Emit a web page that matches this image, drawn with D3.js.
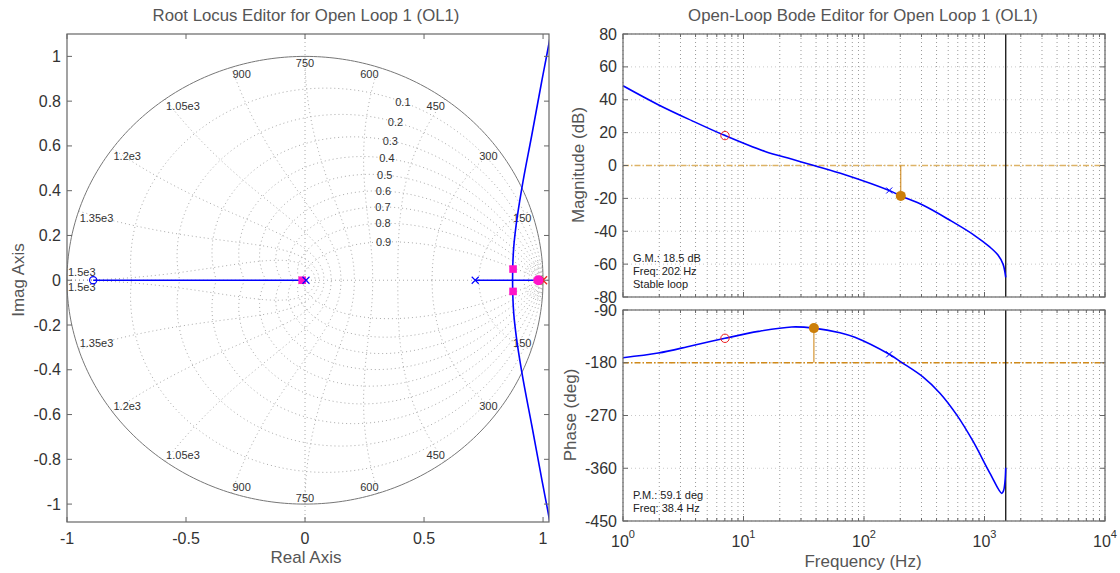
<!DOCTYPE html>
<html>
<head>
<meta charset="utf-8">
<script src="https://cdn.jsdelivr.net/npm/d3@7"></script>
<style>
  html, body { margin: 0; padding: 0; background: #fff; }
  svg { display: block; font-family: "Liberation Sans", Arial, sans-serif; }
</style>
</head>
<body>
<svg id="chart" width="1120" height="573"></svg>
<script>
// ---------- Root locus data ----------
const rlXTicks = [-1, -0.5, 0, 0.5, 1];
const rlXTickLabels = ["-1", "-0.5", "0", "0.5", "1"];
const rlYTicks = [-1, -0.8, -0.6, -0.4, -0.2, 0, 0.2, 0.4, 0.6, 0.8, 1];
const rlYTickLabels = ["-1", "-0.8", "-0.6", "-0.4", "-0.2", "0", "0.2", "0.4", "0.6", "0.8", "1"];

// damping ratios and natural frequencies of the z-plane grid
const zetaValues = [0.1, 0.2, 0.3, 0.4, 0.5, 0.6, 0.7, 0.8, 0.9];
const wnValues = [150, 300, 450, 600, 750, 900, 1050, 1200, 1350, 1500];
const wnLabels = ["150", "300", "450", "600", "750", "900", "1.05e3", "1.2e3", "1.35e3", "1.5e3"];
const wnSmall = [10, 20, 30, 40];
const nyquist = 1500;

// locus branches (real, imag)
const branchReal1 = [[-0.89, 0], [0.004, 0]];
const branchReal2 = [[0.715, 0], [1.0, 0]];
const branchUpper = [[0.872, 0], [0.873, 0.07], [0.877, 0.15], [0.887, 0.247], [0.911, 0.412], [0.953, 0.65], [0.993, 0.88], [1.032, 1.1], [1.04, 1.15]];
const branchLower = branchUpper.map(p => [p[0], -p[1]]);

// open-loop poles / zeros and closed-loop poles
const plantPoles = [[0.004, 0], [0.715, 0]];
const plantZeros = [[-0.89, 0]];
const compPoles = [[1.0, 0]];
const compZeros = [[0.985, 0]];
const clPolesSquare = [[-0.012, 0], [0.874, 0.05], [0.874, -0.05]];
const clPolesCircle = [[0.98, 0]];

// ---------- Bode data ----------
const magFreq = [1, 1.96, 3.72, 7.02, 15.1, 25, 38.4, 69.6, 162, 202, 310, 517, 807, 1111, 1294, 1425, 1500];
const magDb   = [48.5, 37.0, 27.3, 18.2, 8.5, 3.9, 0, -5.6, -15.2, -18.5, -24.2, -33.3, -42.0, -49.7, -54.5, -60, -68];
const phFreq  = [1, 1.96, 3.72, 7.02, 13.3, 25.1, 38.4, 63.2, 84, 162, 205, 310, 427, 588, 807, 1111, 1390, 1440, 1480, 1500];
const phDeg   = [-171.4, -163.5, -151, -138.3, -126.5, -119, -120.9, -128.7, -136.6, -165.6, -179.3, -204.5, -232, -269, -314.7, -368.7, -402.8, -398, -382, -359];

const magTicks = [80, 60, 40, 20, 0, -20, -40, -60, -80];
const phTicks = [-90, -180, -270, -360, -450];
const freqTicks = [1, 10, 100, 1000, 10000];
const freqExps = ["0", "1", "2", "3", "4"];

const gainMargin = { freq: 202, db: -18.5, text: ["G.M.: 18.5 dB", "Freq: 202 Hz", "Stable loop"] };
const phaseMargin = { freq: 38.4, deg: -120.9, text: ["P.M.: 59.1 deg", "Freq: 38.4 Hz"] };
const compZeroHz = { freq: 7.02, db: 18.2, deg: -138.3 };
const compPoleHz = { freq: 162, db: -15.2, deg: -165.6 };

// ---------- styling ----------
const BLUE = "#0000ff";
const PINK = "#ff14c8";
const RED = "#ee2222";
const ORANGE = "#cc7f0a";
const BOX = "#666";
const TXT = "#333";
const LBL = "#555";
const GRID = "#9a9a9a";

const svg = d3.select("#chart");
const defs = svg.append("defs");

// ================= Root locus =================
const rl = { left: 67, right: 549, top: 34, bottom: 522 };
const rx = d3.scaleLinear().domain([-1, 1.025]).range([rl.left, rl.right]);
const ry = d3.scaleLinear().domain([-1.08, 1.1]).range([rl.bottom, rl.top]);

defs.append("clipPath").attr("id", "rlclip")
  .append("rect").attr("x", rl.left).attr("y", rl.top)
  .attr("width", rl.right - rl.left).attr("height", rl.bottom - rl.top);

const rlg = svg.append("g");
const lineXY = d3.line().x(d => rx(d[0])).y(d => ry(d[1]));

// z-plane grid
function zpt(wnT, zeta) {
  const r = Math.exp(-zeta * wnT);
  const a = wnT * Math.sqrt(1 - zeta * zeta);
  return [r * Math.cos(a), r * Math.sin(a)];
}
const gridG = rlg.append("g").attr("clip-path", "url(#rlclip)")
  .attr("fill", "none").attr("stroke", "#aaa").attr("stroke-width", 1).attr("stroke-dasharray", "1,3");

// dotted real and imaginary axes
gridG.append("line").attr("x1", rl.left).attr("x2", rl.right).attr("y1", ry(0)).attr("y2", ry(0));
gridG.append("line").attr("x1", rx(0)).attr("x2", rx(0)).attr("y1", rl.top).attr("y2", rl.bottom);

zetaValues.forEach(z => {
  const wmax = Math.PI / Math.sqrt(1 - z * z);
  const pts = d3.range(0, 121).map(i => zpt(wmax * i / 120, z));
  gridG.append("path").attr("d", lineXY(pts));
  gridG.append("path").attr("d", lineXY(pts.map(p => [p[0], -p[1]])));
});
wnValues.concat(wnSmall).forEach(w => {
  const wT = Math.PI * w / nyquist;
  const pts = d3.range(0, 81).map(i => zpt(wT, i / 80));
  gridG.append("path").attr("d", lineXY(pts));
  gridG.append("path").attr("d", lineXY(pts.map(p => [p[0], -p[1]])));
});

// unit circle
const circPts = d3.range(0, 361).map(i => [Math.cos(i * Math.PI / 180), Math.sin(i * Math.PI / 180)]);
rlg.append("path").attr("d", lineXY(circPts)).attr("fill", "none").attr("stroke", "#777").attr("stroke-width", 1);

// grid labels
const gl = rlg.append("g").attr("font-size", 11).attr("fill", TXT);
zetaValues.forEach(z => {
  const p = zpt(0.35 * Math.PI, z);
  gl.append("text").attr("x", rx(p[0])).attr("y", ry(p[1])).attr("text-anchor", "middle")
    .attr("dominant-baseline", "central").text(String(z));
});
wnValues.forEach((w, i) => {
  const a = Math.PI * w / nyquist;
  [1, -1].forEach(sgn => {
    const px = rx(Math.cos(a)), py = ry(sgn * Math.sin(a));
    let anchor = Math.abs(Math.cos(a)) < 1e-6 ? "middle" : (Math.cos(a) > 0 ? "end" : "start");
    let dy = sgn > 0 ? 7 : -6;
    if (w === nyquist) { dy = sgn > 0 ? -8 : 7; }
    gl.append("text").attr("x", px + (anchor === "start" ? 1 : 0)).attr("y", py + dy)
      .attr("text-anchor", anchor).attr("dominant-baseline", "central").text(wnLabels[i]);
  });
});

// locus branches
const locusG = rlg.append("g").attr("clip-path", "url(#rlclip)").attr("fill", "none")
  .attr("stroke", BLUE).attr("stroke-width", 1.6);
[branchReal1, branchReal2, branchUpper, branchLower].forEach(b => {
  locusG.append("path").attr("d", d3.line().x(d => rx(d[0])).y(d => ry(d[1])).curve(d3.curveMonotoneY)(b));
});

// markers
const mk = rlg.append("g");
function xMark(g, x, y, s, color, w) {
  g.append("path").attr("d", `M${x - s},${y - s}L${x + s},${y + s}M${x - s},${y + s}L${x + s},${y - s}`)
    .attr("stroke", color).attr("stroke-width", w).attr("fill", "none");
}
plantZeros.forEach(p => mk.append("circle").attr("cx", rx(p[0])).attr("cy", ry(p[1])).attr("r", 3.6)
  .attr("fill", "none").attr("stroke", BLUE).attr("stroke-width", 1.2));
compZeros.forEach(p => mk.append("circle").attr("cx", rx(p[0])).attr("cy", ry(p[1])).attr("r", 4)
  .attr("fill", "none").attr("stroke", RED).attr("stroke-width", 1.2));
compPoles.forEach(p => xMark(mk, rx(p[0]), ry(p[1]), 4, RED, 1.3));
clPolesSquare.forEach(p => mk.append("rect").attr("x", rx(p[0]) - 3.8).attr("y", ry(p[1]) - 3.8)
  .attr("width", 7.6).attr("height", 7.6).attr("fill", PINK));
clPolesCircle.forEach(p => mk.append("circle").attr("cx", rx(p[0])).attr("cy", ry(p[1])).attr("r", 5).attr("fill", PINK));
plantPoles.forEach(p => xMark(mk, rx(p[0]), ry(p[1]), 3.5, BLUE, 1.1));

// axes box and ticks
function boxAxes(g, x, y, xt, yt, xl, yl, opts) {
  const b = { l: x.range()[0], r: x.range()[1], t: y.range()[1], bt: y.range()[0] };
  g.append("rect").attr("x", b.l).attr("y", b.t).attr("width", b.r - b.l).attr("height", b.bt - b.t)
    .attr("fill", "none").attr("stroke", BOX).attr("stroke-width", 1.2);
  const tk = g.append("g").attr("stroke", BOX).attr("stroke-width", 1);
  xt.forEach(v => {
    tk.append("line").attr("x1", x(v)).attr("x2", x(v)).attr("y1", b.bt).attr("y2", b.bt - 5);
    tk.append("line").attr("x1", x(v)).attr("x2", x(v)).attr("y1", b.t).attr("y2", b.t + 5);
  });
  yt.forEach(v => {
    tk.append("line").attr("x1", b.l).attr("x2", b.l + 5).attr("y1", y(v)).attr("y2", y(v));
    tk.append("line").attr("x1", b.r).attr("x2", b.r - 5).attr("y1", y(v)).attr("y2", y(v));
  });
  if (yl) {
    const tg = g.append("g").attr("font-size", opts.fs).attr("fill", TXT).attr("text-anchor", "end");
    yt.forEach((v, i) => tg.append("text").attr("x", b.l - 6).attr("y", y(v)).attr("dominant-baseline", "central").text(yl[i]));
  }
  if (xl) {
    const tg = g.append("g").attr("font-size", opts.fs).attr("fill", TXT).attr("text-anchor", "middle");
    xt.forEach((v, i) => tg.append("text").attr("x", x(v)).attr("y", b.bt + 16).attr("dominant-baseline", "central").text(xl[i]));
  }
}
boxAxes(rlg, rx, ry, rlXTicks, rlYTicks, rlXTickLabels, rlYTickLabels, { fs: 16 });

rlg.append("text").attr("x", 306).attr("y", 15).attr("text-anchor", "middle").attr("dominant-baseline", "central")
  .attr("font-size", 16.8).attr("fill", LBL).text("Root Locus Editor for Open Loop 1 (OL1)");
rlg.append("text").attr("x", 306).attr("y", 557).attr("text-anchor", "middle").attr("dominant-baseline", "central")
  .attr("font-size", 17).attr("fill", LBL).text("Real Axis");
rlg.append("text").attr("transform", "translate(18,280) rotate(-90)").attr("text-anchor", "middle")
  .attr("dominant-baseline", "central").attr("font-size", 17).attr("fill", LBL).text("Imag Axis");

// ================= Bode =================
const bx = d3.scaleLog().domain([1, 1e4]).range([623, 1105]);
const my = d3.scaleLinear().domain([-80, 80]).range([297, 34]);
const py = d3.scaleLinear().domain([-450, -90]).range([521, 310]);

const minorFreq = [];
for (let e = 0; e < 4; e++) for (let m = 2; m <= 9; m++) minorFreq.push(m * Math.pow(10, e));

function bodePanel(yScale, yTicks, clipId) {
  const g = svg.append("g");
  const l = bx.range()[0], r = bx.range()[1], t = yScale.range()[1], b = yScale.range()[0];
  defs.append("clipPath").attr("id", clipId).append("rect")
    .attr("x", l).attr("y", t).attr("width", r - l).attr("height", b - t);
  const gg = g.append("g").attr("stroke", GRID).attr("stroke-width", 1).attr("stroke-dasharray", "1,3");
  minorFreq.concat(freqTicks).forEach(f => gg.append("line").attr("x1", bx(f)).attr("x2", bx(f)).attr("y1", t).attr("y2", b));
  yTicks.forEach(v => gg.append("line").attr("x1", l).attr("x2", r).attr("y1", yScale(v)).attr("y2", yScale(v))
    .attr("stroke", "#c8c8c8"));
  // minor ticks on the log axis
  const mt = g.append("g").attr("stroke", BOX);
  minorFreq.forEach(f => {
    mt.append("line").attr("x1", bx(f)).attr("x2", bx(f)).attr("y1", b).attr("y2", b - 3);
    mt.append("line").attr("x1", bx(f)).attr("x2", bx(f)).attr("y1", t).attr("y2", t + 3);
  });
  return g;
}
const smoothLine = (yScale) => d3.line().x(d => bx(d[0])).y(d => yScale(d[1])).curve(d3.curveCatmullRom.alpha(0.5));

// magnitude panel
const mg = bodePanel(my, magTicks, "magclip");
mg.append("line").attr("x1", bx.range()[0]).attr("x2", bx.range()[1]).attr("y1", my(0)).attr("y2", my(0))
  .attr("stroke", "#ddb366").attr("stroke-width", 1.3).attr("stroke-dasharray", "6,2,1.5,2");
mg.append("line").attr("x1", bx(gainMargin.freq)).attr("x2", bx(gainMargin.freq)).attr("y1", my(0)).attr("y2", my(gainMargin.db))
  .attr("stroke", ORANGE).attr("stroke-width", 1);
mg.append("line").attr("x1", bx(nyquist)).attr("x2", bx(nyquist)).attr("y1", my.range()[1]).attr("y2", my.range()[0])
  .attr("stroke", "#222").attr("stroke-width", 1.4);
const magData = magFreq.map((f, i) => [f, magDb[i]]);
mg.append("path").attr("clip-path", "url(#magclip)").attr("d", smoothLine(my)(magData))
  .attr("fill", "none").attr("stroke", BLUE).attr("stroke-width", 1.6);
mg.append("circle").attr("cx", bx(compZeroHz.freq)).attr("cy", my(compZeroHz.db)).attr("r", 4.2)
  .attr("fill", "none").attr("stroke", RED).attr("stroke-width", 1);
xMark(mg, bx(compPoleHz.freq), my(compPoleHz.db), 3, BLUE, 1);
mg.append("circle").attr("cx", bx(gainMargin.freq)).attr("cy", my(gainMargin.db)).attr("r", 5).attr("fill", ORANGE);
boxAxes(mg, bx, my, freqTicks, magTicks, null, magTicks.map(String), { fs: 16 });
gainMargin.text.forEach((s, i) => mg.append("text").attr("x", 633).attr("y", 258 + i * 13)
  .attr("dominant-baseline", "central").attr("font-size", 11).attr("fill", "#222").text(s));

// phase panel
const pg = bodePanel(py, phTicks, "phclip");
pg.append("line").attr("x1", bx.range()[0]).attr("x2", bx.range()[1]).attr("y1", py(-180)).attr("y2", py(-180))
  .attr("stroke", "#d08a1a").attr("stroke-width", 1.3).attr("stroke-dasharray", "6,2,1.5,2");
pg.append("line").attr("x1", bx(phaseMargin.freq)).attr("x2", bx(phaseMargin.freq)).attr("y1", py(-180)).attr("y2", py(phaseMargin.deg))
  .attr("stroke", ORANGE).attr("stroke-width", 1);
pg.append("line").attr("x1", bx(nyquist)).attr("x2", bx(nyquist)).attr("y1", py.range()[1]).attr("y2", py.range()[0])
  .attr("stroke", "#222").attr("stroke-width", 1.4);
const phData = phFreq.map((f, i) => [f, phDeg[i]]);
pg.append("path").attr("clip-path", "url(#phclip)").attr("d", smoothLine(py)(phData))
  .attr("fill", "none").attr("stroke", BLUE).attr("stroke-width", 1.6);
pg.append("circle").attr("cx", bx(compZeroHz.freq)).attr("cy", py(compZeroHz.deg)).attr("r", 4.2)
  .attr("fill", "none").attr("stroke", RED).attr("stroke-width", 1);
xMark(pg, bx(compPoleHz.freq), py(compPoleHz.deg), 3, BLUE, 1);
pg.append("circle").attr("cx", bx(phaseMargin.freq)).attr("cy", py(phaseMargin.deg)).attr("r", 5).attr("fill", ORANGE);
boxAxes(pg, bx, py, freqTicks, phTicks, null, phTicks.map(String), { fs: 16 });
phaseMargin.text.forEach((s, i) => pg.append("text").attr("x", 633).attr("y", 495 + i * 13)
  .attr("dominant-baseline", "central").attr("font-size", 11).attr("fill", "#222").text(s));

// log-axis labels with exponents
const fl = svg.append("g").attr("font-size", 16).attr("fill", TXT);
freqTicks.forEach((f, i) => {
  const t = fl.append("text").attr("x", bx(f)).attr("y", 541).attr("text-anchor", "middle").attr("dominant-baseline", "central");
  t.append("tspan").text("10");
  t.append("tspan").attr("font-size", 11).attr("dy", -7).text(freqExps[i]);
});

svg.append("text").attr("x", 863).attr("y", 15).attr("text-anchor", "middle").attr("dominant-baseline", "central")
  .attr("font-size", 16.8).attr("fill", LBL).text("Open-Loop Bode Editor for Open Loop 1 (OL1)");
svg.append("text").attr("x", 863).attr("y", 561).attr("text-anchor", "middle").attr("dominant-baseline", "central")
  .attr("font-size", 17).attr("fill", LBL).text("Frequency (Hz)");
svg.append("text").attr("transform", "translate(578,165) rotate(-90)").attr("text-anchor", "middle")
  .attr("dominant-baseline", "central").attr("font-size", 17).attr("fill", LBL).text("Magnitude (dB)");
svg.append("text").attr("transform", "translate(570,415) rotate(-90)").attr("text-anchor", "middle")
  .attr("dominant-baseline", "central").attr("font-size", 17).attr("fill", LBL).text("Phase (deg)");
</script>
</body>
</html>
